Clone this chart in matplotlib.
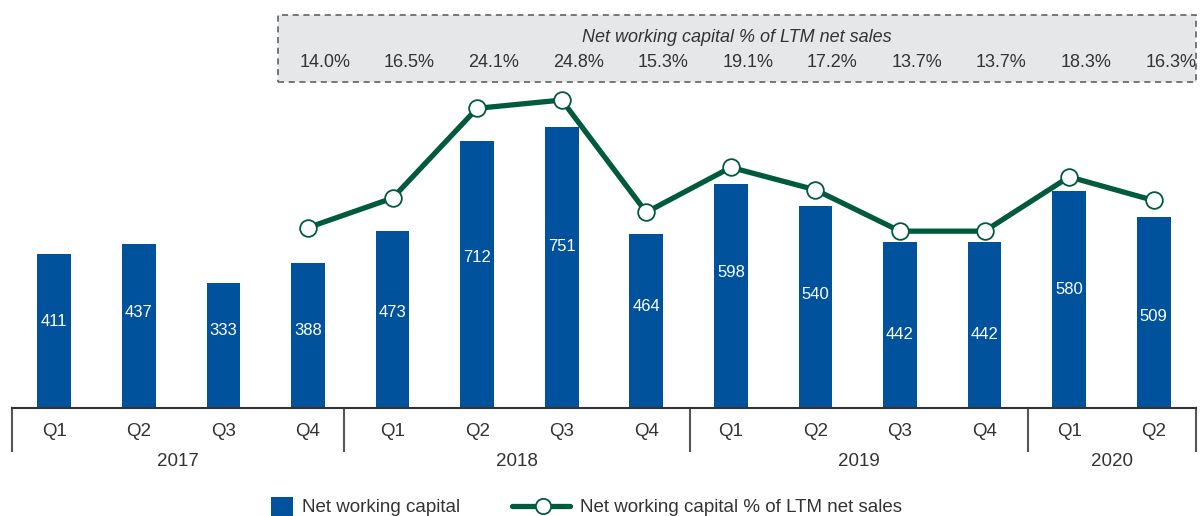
import matplotlib.pyplot as plt
from matplotlib.patches import Rectangle
from matplotlib.lines import Line2D
from matplotlib.transforms import blended_transform_factory

plt.rcParams['font.family'] = ['Liberation Sans', 'DejaVu Sans']

# Net working capital per quarter (bars) and NWC % of LTM net sales (line, from Q4 2017)
quarters = ['Q1', 'Q2', 'Q3', 'Q4', 'Q1', 'Q2', 'Q3', 'Q4', 'Q1', 'Q2', 'Q3', 'Q4', 'Q1', 'Q2']
years = ['2017', '2018', '2019', '2020']
nwc = [411, 437, 333, 388, 473, 712, 751, 464, 598, 540, 442, 442, 580, 509]
nwc_pct = [14.0, 16.5, 24.1, 24.8, 15.3, 19.1, 17.2, 13.7, 13.7, 18.3, 16.3]
pct_start = 3  # first quarter that has a percentage

# where the white value labels sit inside each bar
label_pos = [232, 254, 206, 206, 256, 403, 430, 270, 363, 302, 195, 195, 315, 243]
year_bounds = [-0.5, 3.42, 7.52, 11.51, 13.5]

blue = '#00529c'
green = '#005a3c'
txt = '#333333'

W, H = 1203, 516
fig = plt.figure(figsize=(W / 100, H / 100), dpi=100)
ax = fig.add_axes([12 / W, 108 / H, 1184 / W, 393 / H])
ax2 = ax.twinx()

x = list(range(len(nwc)))
ax.bar(x, nwc, width=0.40, color=blue, zorder=2)
for xi, v, ly in zip(x, nwc, label_pos):
    ax.text(xi, ly, str(v), ha='center', va='center', color='white', fontsize=12, zorder=3)

xl = x[pct_start:]
ax2.plot(xl, nwc_pct, color=green, lw=3.8, marker='o', ms=12, mfc='white',
         mec=green, mew=1.3, zorder=4, solid_capstyle='butt')

ax.set_xlim(-0.5, 13.5)
ax.set_ylim(0, 1049)
ax2.set_ylim(-1.27, 32.0)
for a in (ax, ax2):
    a.set_yticks([])
    a.set_xticks([])
    for s in a.spines.values():
        s.set_visible(False)

# category axis: baseline, quarter labels, year separators, year labels
tr = blended_transform_factory(ax.transData, ax.transAxes)
ax.plot([-0.5, 13.5], [0, 0], color='#333333', lw=1.5, clip_on=False, zorder=5)
for xi, q in zip(x, quarters):
    ax.text(xi, -0.061, q, transform=tr, ha='center', va='center', fontsize=13.5, color=txt)
for b in year_bounds:
    ax.plot([b, b], [0, -0.109], transform=tr, color='#555555', lw=1.5, clip_on=False)
for y, lo, hi in zip(years, year_bounds[:-1], year_bounds[1:]):
    ax.text((lo + hi) / 2, -0.137, y, transform=tr, ha='center', va='center', fontsize=13.5, color=txt)

# dashed header box with the percentage values
box = Rectangle((2.65, 0.8295), 13.5 - 2.65, 1.0 - 0.8295, transform=tr,
                facecolor='#e6e7e8', edgecolor='#555555', lw=1.1, ls=(0, (4, 3)),
                clip_on=False, zorder=1)
ax.add_patch(box)
ax.text((2.65 + 13.5) / 2, 0.944, 'Net working capital % of LTM net sales', transform=tr,
        ha='center', va='center', fontsize=13, style='italic', color=txt)
for xi, p in zip(xl, nwc_pct):
    ax.text(xi + 0.2, 0.880, f'{p:.1f}%', transform=tr, ha='center', va='center',
            fontsize=13, color=txt)

# legend, laid out in figure pixels
def fx(px):
    return px / W


def fy(py):
    return 1 - py / H


fig.add_artist(Rectangle((fx(271), fy(520)), fx(293) - fx(271), fy(497) - fy(520),
                         transform=fig.transFigure, facecolor=blue, edgecolor='none'))
fig.text(fx(302), fy(508), 'Net working capital', ha='left', va='center',
         fontsize=13.5, color=txt)
fig.add_artist(Line2D([fx(512), fx(570)], [fy(506), fy(506)], transform=fig.transFigure,
                      color=green, lw=3.8, solid_capstyle='round'))
fig.add_artist(Line2D([fx(543)], [fy(506)], transform=fig.transFigure, marker='o', ms=11,
                      mfc='white', mec=green, mew=1.3))
fig.text(fx(580), fy(508), 'Net working capital % of LTM net sales', ha='left', va='center',
         fontsize=13.5, color=txt)

fig.savefig('out.png', dpi=100)
